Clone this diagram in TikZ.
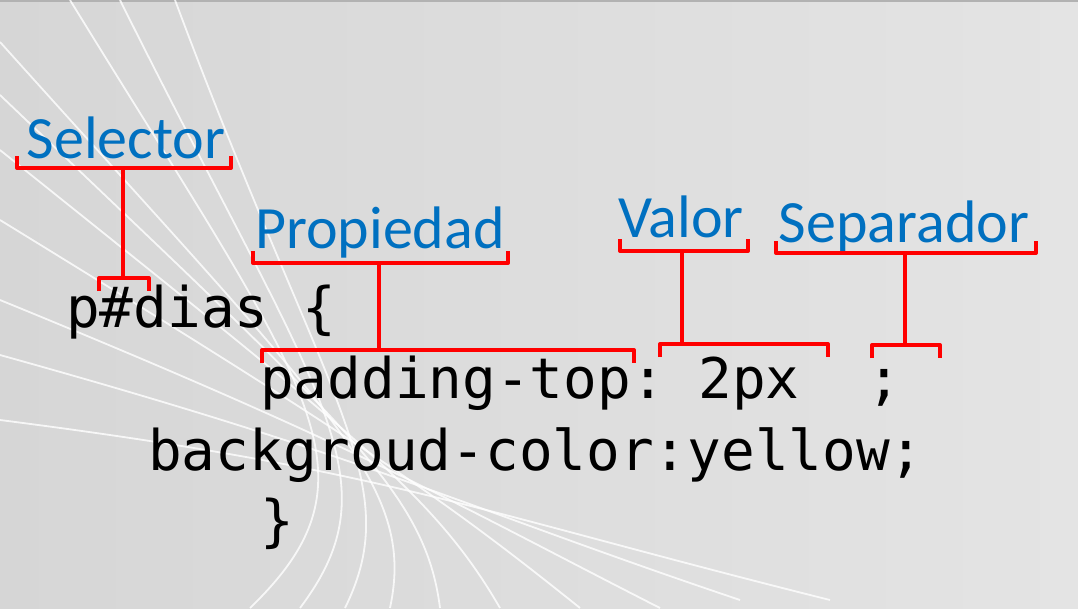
\documentclass[tikz,border=0pt]{standalone}
\usepackage{fontspec}
\setmonofont{DejaVu Sans Mono}
\newfontfamily\tagfont{Carlito}
\usetikzlibrary{calc}
\definecolor{tagblue}{RGB}{0,112,192}
\definecolor{bgleft}{RGB}{214,214,214}
\definecolor{bgright}{RGB}{228,228,228}
\def\upbrace(#1)(#2){\draw[brk] ($(#1)+(0,-12)$) -- (#1) -- (#2) -- ($(#2)+(0,-12)$);}
\def\downbrace(#1)(#2){\draw[brk] ($(#1)+(0,13)$) -- (#1) -- (#2) -- ($(#2)+(0,13)$);}

\begin{document}
\begin{tikzpicture}[x=1pt, y=-1pt,
    brk/.style={line width=4pt, color=red, line join=round},
    swoosh/.style={line width=1.8pt, color=white, opacity=0.8},
    tag/.style={font=\tagfont\fontsize{60}{60}\selectfont, text=tagblue, inner sep=0, anchor=base},
    code/.style={font=\ttfamily\fontsize{56}{60}\selectfont, inner sep=0, anchor=base west}]
		%%%%% START %%%%%
		
		\useasboundingbox (0, 0) rectangle (1078, 608);
		\shade[left color=bgleft, right color=bgright] (0, 0) rectangle (1078, 608);
		\draw[line width=1.5pt, color=black!30] (0, 0.75) -- (1078, 0.75);
		
		% white lines of the background
		\foreach \sx/\sy/\ex/\ey [count=\i] in {70/0/250/608, 120/0/300/608, 175/0/345/608, 0/42/390/608,
		    0/95/440/608, 0/150/500/608, 0/220/580/608, 0/300/660/608, 0/355/740/600, 0/420/830/600}
		  \draw[swoosh] (\sx, \sy) .. controls (300+9*\i, 380+9*\i) and (380+9*\i, 470+4*\i) .. (\ex, \ey);
		
		\node[tag] (selector) at (126, 158) {Selector};
		\node[tag] (propiedad) at (380, 248) {Propiedad};
		\node[tag] (valor) at (681, 237) {Valor};
		\node[tag] (separador) at (904, 242) {Separador};
		
		\node[code] (linea1) at (66, 327) {p\#dias \{};
		\node[code] (linea2) at (260, 398) {padding-top:\ 2px\ \ ;};
		\node[code] (linea3) at (148, 470) {backgroud-color:yellow;};
		\node[code] (linea4) at (260, 540) {\}};
		
		% brackets: top one under the label, stem, bottom one over the code
		\foreach \n/\tl/\tr/\ty/\sx/\by/\bl/\br in {selector/17/231/168/123/278/99/149,
		    propiedad/253/508/263/379/350/262/634, valor/620/748/251/682/344/660/828,
		    separador/776/1036/253/905/345/872/940}{
		  \coordinate (\n-tl) at (\tl, \ty);
		  \coordinate (\n-tr) at (\tr, \ty);
		  \coordinate (\n-top) at (\sx, \ty);
		  \coordinate (\n-bot) at (\sx, \by);
		  \coordinate (\n-bl) at (\bl, \by);
		  \coordinate (\n-br) at (\br, \by);
		  \upbrace(\n-tl)(\n-tr)
		  \draw[brk] (\n-top) -- (\n-bot);
		  \downbrace(\n-bl)(\n-br)
		}
		
		%%%%% END %%%%%
\end{tikzpicture}
\end{document}
